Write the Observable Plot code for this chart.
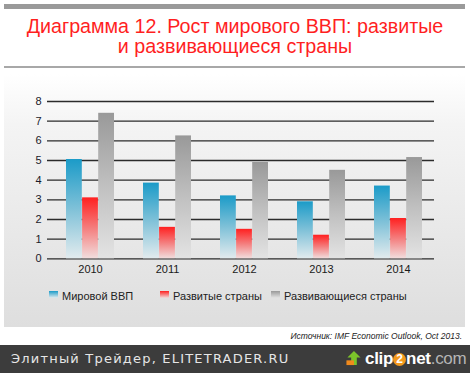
<!DOCTYPE html>
<html><head><meta charset="utf-8">
<script src="https://cdn.jsdelivr.net/npm/d3@7"></script>
<script src="https://cdn.jsdelivr.net/npm/@observablehq/plot@0.6"></script>
<style>
html,body{margin:0;padding:0}
body{width:470px;height:373px;position:relative;background:#fff;font-family:"Liberation Sans",Arial,sans-serif;overflow:hidden}
#topbar{position:absolute;left:4px;top:4px;width:461px;height:5px;background:#9a9a9a}
#title{position:absolute;left:0;top:16px;width:470px;text-align:center;color:#ff1f1f;font-size:19.7px;line-height:20px}
#rule{position:absolute;left:4px;top:66px;width:461px;height:2px;background:#a8a8a8}
#panel{position:absolute;left:4px;top:74px;width:461px;height:253px;background:linear-gradient(#ffffff,#f4f4f4 20%,#dedede)}
#chart{position:absolute;left:0;top:80px}
#legend{position:absolute;top:290px;left:0;width:470px;font-size:11px;color:#222}
.lg{position:absolute;top:0;white-space:nowrap;line-height:12px}
.sw{display:inline-block;width:9px;height:7px;vertical-align:top;margin-top:1px;margin-right:4px}
#source{position:absolute;right:8px;top:331px;font-size:8.5px;font-style:italic;color:#222}
#footer{position:absolute;left:0;top:345px;width:470px;height:28px;background:#3c3c3c}
#ftxt{position:absolute;left:11px;top:6px;color:#e6e6e6;font-family:"DejaVu Sans",sans-serif;font-size:13px;letter-spacing:1.2px}
#logo{position:absolute;left:345px;top:4px;font-family:"Liberation Sans",Arial,sans-serif;font-weight:bold;font-size:17px;color:#fff;white-space:nowrap;letter-spacing:-0.3px}
#logo .two{display:inline-block;width:13px;height:13px;border-radius:7px;background:#f39a1c;color:#fff;font-size:12px;line-height:13px;text-align:center;vertical-align:1px;letter-spacing:0}
#logo .com{color:#b5b5b5;font-weight:normal}
</style></head><body>
<div id="topbar"></div>
<div id="title">Диаграмма 12. Рост мирового ВВП: развитые<br>и развивающиеся страны</div>
<div id="rule"></div>
<div id="panel"></div>
<div id="chart"></div>
<div id="legend"></div>
<div id="source">Источник: IMF Economic Outlook, Oct 2013.</div>
<div id="footer"><div id="ftxt">Элитный Трейдер, ELITETRADER.RU</div>
<div id="logo"><svg width="17" height="16" viewBox="0 0 17 17" style="vertical-align:-2px;margin-right:3px"><polygon points="9,1 16,8 12,8 12,16 6,16 6,8 2,8" fill="#7cc42a"/><rect x="1" y="11" width="8" height="5" fill="#f08a1c"/></svg>clip<span class="two">2</span>net<span class="com">.com</span></div></div>
<script>
const years = ["2010","2011","2012","2013","2014"];
const worldGDP = [5.05, 3.85, 3.2, 2.9, 3.7];
const advanced = [3.1, 1.6, 1.5, 1.2, 2.05];
const emerging = [7.4, 6.25, 4.9, 4.5, 5.15];
const seriesNames = ["Мировой ВВП","Развитые страны","Развивающиеся страны"];
const yTicks = [0,1,2,3,4,5,6,7,8];

const gradients = [
  {id:"gBlue", stops:[["0%","#1b9bc8"],["50%","#7fc1d8"],["100%","#e2ebee"]]},
  {id:"gRed", stops:[["0%","#ff2020"],["50%","#f47d7d"],["100%","#f1dddd"]]},
  {id:"gGray", stops:[["0%","#999999"],["50%","#c0c0c0"],["100%","#e3e3e3"]]}
];

const allValues = [worldGDP, advanced, emerging];
const rows = [];
allValues.forEach((vals, s) => vals.forEach((v, i) => rows.push({year: years[i], series: seriesNames[s], value: v})));

const W = 470, H = 200, mL = 49, mR = 36, mT = 21, mB = 14.6;
const pInner = 0.379, pOuter = 0.165;
const step = (W - mL - mR) / (years.length - pInner + 2 * pOuter);
const bw = step * (1 - pInner);
const third = bw / 3;

const barMarks = seriesNames.map((name, s) =>
  Plot.barY(rows.filter(d => d.series === name), {
    x: "year", y: "value",
    fill: `url(#${gradients[s].id})`,
    insetLeft: third * s, insetRight: third * (2 - s)
  })
);

const chart = Plot.plot({
  width: W, height: H,
  marginLeft: mL, marginRight: mR, marginTop: mT, marginBottom: mB,
  style: {background: "transparent", fontFamily: "Liberation Sans, Arial, sans-serif", fontSize: "11px", color: "#222"},
  x: {type: "band", domain: years, paddingInner: pInner, paddingOuter: pOuter, align: 0.57},
  y: {domain: [-0.36, 8]},
  marks: [
    Plot.gridY(yTicks, {stroke: "#2b2b2b", strokeOpacity: 1, strokeWidth: 1.3}),
    ...barMarks,
    Plot.axisY(yTicks, {tickSize: 2, tickPadding: 6, line: true, stroke: "#2b2b2b", strokeWidth: 1.3, fill: "#1a1a2a", fontSize: 11, label: null}),
    Plot.axisX({tickSize: 0, tickPadding: 0, dy: -1, fontSize: 11, fill: "#1a1a1a", label: null})
  ]
});

const ns = "http://www.w3.org/2000/svg";
const defs = document.createElementNS(ns, "defs");
gradients.forEach(g => {
  const lg = document.createElementNS(ns, "linearGradient");
  lg.setAttribute("id", g.id);
  lg.setAttribute("x1", "0"); lg.setAttribute("y1", "0");
  lg.setAttribute("x2", "0"); lg.setAttribute("y2", "1");
  g.stops.forEach(([o, c]) => {
    const st = document.createElementNS(ns, "stop");
    st.setAttribute("offset", o); st.setAttribute("stop-color", c);
    lg.appendChild(st);
  });
  defs.appendChild(lg);
});
chart.insertBefore(defs, chart.firstChild);
document.getElementById("chart").appendChild(chart);

const legendPos = [49, 160, 271];
const legend = document.getElementById("legend");
seriesNames.forEach((name, s) => {
  const g = gradients[s];
  const item = document.createElement("div");
  item.className = "lg";
  item.style.left = legendPos[s] + "px";
  const sw = document.createElement("span");
  sw.className = "sw";
  sw.style.background = `linear-gradient(${g.stops[0][1]}, ${g.stops[2][1]})`;
  item.appendChild(sw);
  item.appendChild(document.createTextNode(name));
  legend.appendChild(item);
});
</script>
</body></html>
